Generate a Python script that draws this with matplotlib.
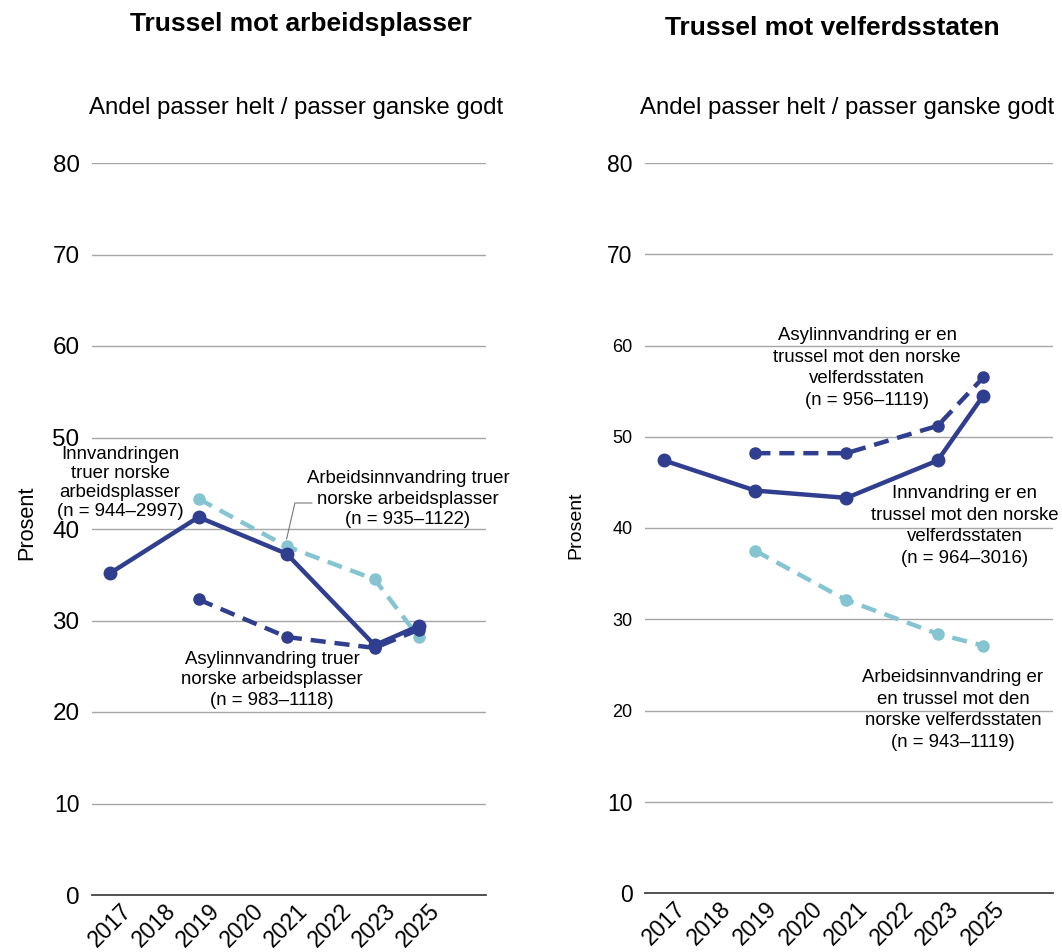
import matplotlib
matplotlib.use("Agg")
import matplotlib.pyplot as plt

plt.rcParams["font.family"] = ["Liberation Sans", "DejaVu Sans"]

W, H = 1062, 952
DARK = "#2f3e8e"; LIGHT = "#84c5d1"; GRID = "#a6a6a6"

YEARS = ["2017", "2018", "2019", "2020", "2021", "2022", "2023", "2025"]
Y_TICKS = [0, 10, 20, 30, 40, 50, 60, 70, 80]

# Trussel mot arbeidsplasser
arb_innv_years = ["2017", "2019", "2021", "2023", "2025"]
arb_innv = [35.2, 41.3, 37.3, 27.3, 29.4]
arb_arbeid_years = ["2019", "2021", "2023", "2025"]
arb_arbeid = [43.3, 38.1, 34.5, 28.2]
arb_asyl_years = ["2019", "2021", "2023", "2025"]
arb_asyl = [32.3, 28.2, 27.0, 29.0]

# Trussel mot velferdsstaten
vel_innv_years = ["2017", "2019", "2021", "2023", "2025"]
vel_innv = [47.4, 44.1, 43.3, 47.4, 54.5]
vel_asyl_years = ["2019", "2021", "2023", "2025"]
vel_asyl = [48.2, 48.2, 51.2, 56.5]
vel_arbeid_years = ["2019", "2021", "2023", "2025"]
vel_arbeid = [37.5, 32.1, 28.4, 27.1]


def px(x, y):
    return x / W, 1 - y / H


def pos(years):
    return [YEARS.index(y) for y in years]


def draw(ax, innv, innv_y, asyl, asyl_y, arbeid, arbeid_y, ysizes):
    ax.set_ylim(0, 80); ax.set_xlim(-0.42, 8.53)
    for s in ("top", "right", "left"): ax.spines[s].set_visible(False)
    ax.spines["bottom"].set_color("#444444"); ax.spines["bottom"].set_linewidth(1.3)
    ax.set_yticks(Y_TICKS)
    ax.yaxis.grid(True, color=GRID, lw=1); ax.set_axisbelow(True)
    ax.tick_params(length=0, pad=9)
    ax.set_yticklabels([str(t) for t in Y_TICKS])
    for lab, fs in zip(ax.get_yticklabels(), ysizes): lab.set_fontsize(fs)
    ax.set_xticks(range(len(YEARS)))
    ax.set_xticklabels(YEARS, rotation=45, ha="center", fontsize=16.5)
    ax.tick_params(axis="x", pad=3)
    dash = dict(lw=3.2, dashes=(3.4, 2.0), marker="o", markersize=8)
    ax.plot(pos(arbeid_y), arbeid, color=LIGHT, clip_on=False, **dash)
    ax.plot(pos(asyl_y), asyl, color=DARK, clip_on=False, **dash)
    ax.plot(pos(innv_y), innv, color=DARK, lw=3.2, marker="o", markersize=9, clip_on=False)


fig = plt.figure(figsize=(W / 100, H / 100), dpi=100)
ax1 = fig.add_axes([92 / W, 1 - 895 / H, (486 - 92) / W, (895 - 163) / H])
ax2 = fig.add_axes([645 / W, 1 - 893 / H, (1053 - 645) / W, (893 - 163) / H])

draw(ax1, arb_innv, arb_innv_years, arb_asyl, arb_asyl_years, arb_arbeid, arb_arbeid_years,
     [17.5, 16.5, 17.5, 17.5, 17.5, 17.5, 17.5, 17.5, 17.5])
draw(ax2, vel_innv, vel_innv_years, vel_asyl, vel_asyl_years, vel_arbeid, vel_arbeid_years,
     [16.5, 16.5, 13, 13, 13, 13, 13, 16.5, 16.5])

# titler og undertitler
fig.text(*px(301, 24), "Trussel mot arbeidsplasser", ha="center", va="center", fontsize=19, fontweight="bold")
fig.text(*px(832, 28), "Trussel mot velferdsstaten", ha="center", va="center", fontsize=19, fontweight="bold")
fig.text(*px(296, 108), "Andel passer helt / passer ganske godt", ha="center", va="center", fontsize=17.3)
fig.text(*px(847, 108), "Andel passer helt / passer ganske godt", ha="center", va="center", fontsize=17.3)
fig.text(*px(27, 523), "Prosent", rotation=90, ha="center", va="center", fontsize=15.7)
fig.text(*px(576, 525), "Prosent", rotation=90, ha="center", va="center", fontsize=14)

# serieetiketter
lab = dict(ha="center", va="center", fontsize=13.4)
fig.text(*px(120, 483), "Innvandringen\ntruer norske\narbeidsplasser\n(n = 944–2997)", linespacing=1.15, **lab)
fig.text(*px(408, 499), "Arbeidsinnvandring truer\nnorske arbeidsplasser\n(n = 935–1122)", linespacing=1.28, **lab)
fig.text(*px(272, 680), "Asylinnvandring truer\nnorske arbeidsplasser\n(n = 983–1118)", linespacing=1.27, **lab)
fig.text(*px(867, 368), "Asylinnvandring er en\ntrussel mot den norske\nvelferdsstaten\n(n = 956–1119)", linespacing=1.36, **lab)
fig.text(*px(965, 526), "Innvandring er en\ntrussel mot den norske\nvelferdsstaten\n(n = 964–3016)", linespacing=1.36, **lab)
fig.text(*px(953, 710), "Arbeidsinnvandring er\nen trussel mot den\nnorske velferdsstaten\n(n = 943–1119)", linespacing=1.36, **lab)

# strek fra etikett til punkt
ax1.annotate("", xy=(YEARS.index("2021"), 38.9), xycoords="data",
             xytext=px(312, 503), textcoords="figure fraction",
             arrowprops=dict(arrowstyle="-", color="#777777", lw=0.8, shrinkA=0, shrinkB=0,
                             connectionstyle="angle,angleA=0,angleB=77,rad=0"))

fig.savefig("out.png", dpi=100)
